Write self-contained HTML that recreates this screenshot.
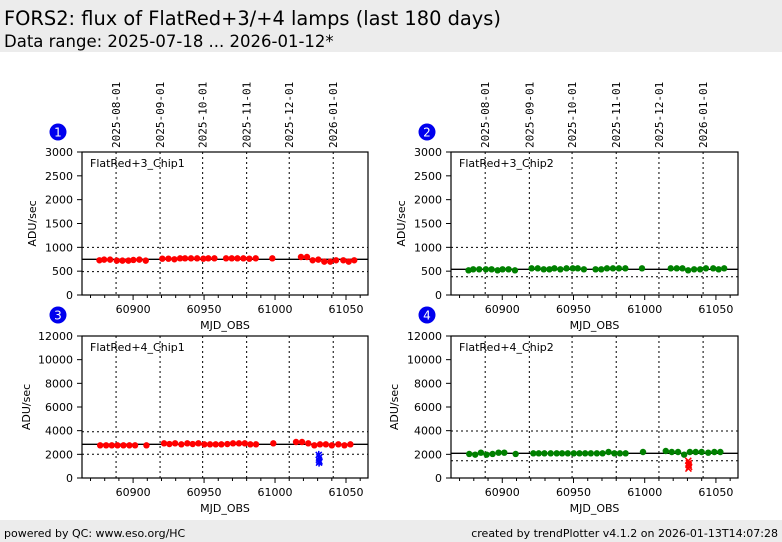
<!DOCTYPE html>
<html><head><meta charset="utf-8">
<style>
body{margin:0;width:782px;height:542px;background:#fff;font-family:"DejaVu Sans","Liberation Sans",sans-serif;overflow:hidden;position:relative}
#hdr{position:absolute;left:0;top:0;width:782px;height:52px;background:#ececec}
#ftr{position:absolute;left:0;top:520px;width:782px;height:22px;background:#ececec}
svg{position:absolute;left:0;top:0}
</style></head><body>
<div id="hdr"></div>
<div id="ftr"></div>
<svg id="chart" width="782" height="542">
<text x="4" y="25" font-size="19.4" fill="#000">FORS2: flux of FlatRed+3/+4 lamps (last 180 days)</text>
<text x="4" y="47" font-size="16.5" fill="#000">Data range: 2025-07-18 ... 2026-01-12*</text>
<text x="4" y="537" font-size="11" fill="#000">powered by QC: www.eso.org/HC</text>
<text x="778" y="537" font-size="11" fill="#000" text-anchor="end">created by trendPlotter v4.1.2 on 2026-01-13T14:07:28</text>
</svg>
<script>
// shared axis data
const dateTicks=[60888,60919,60949,60980,61010,61041];
const dateLabels=["2025-08-01","2025-09-01","2025-10-01","2025-11-01","2025-12-01","2026-01-01"];
const mjdTicks=[60900,60950,61000,61050];
const ticksTop=[0,500,1000,1500,2000,2500,3000];
const ticksBot=[0,2000,4000,6000,8000,10000,12000];
// chip1 / chip2 (FlatRed+3) dates
const datesA=[60876.3,60879.6,60883.8,60888.5,60892.5,60896.7,60900.2,60904.4,60908.9,
60920.6,60924.9,60929.1,60933.1,60936.6,60940.8,60945.1,60949.5,60953.0,60957.3,
60965.5,60969.5,60973.5,60977.7,60981.9,60986.4,60998.1,
61018.3,61022.5,61026.5,61030.5,61034.7,61038.9,61043.0,61048.1,61051.9,61055.8];
const valsP1=[728,742,742,721,721,721,735,742,721,
762,762,749,769,769,769,769,762,769,769,
769,769,769,769,762,769,769,
797,797,728,742,700,700,728,728,700,728];
const valsP2=[517,539,539,539,539,517,539,539,517,
559,559,539,539,559,539,559,559,559,539,
539,539,559,559,559,559,559,
559,559,559,517,539,539,559,559,539,559];
// FlatRed+4 dates
const datesB=[60876.8,60881,60885,60889,60893.2,60897.4,60901.4,60909.4,
60921.8,60925.6,60929.6,60934,60938.2,60942,60946,60950.2,60954.2,60958.2,60962.2,60966.4,60970.4,60974.6,60978.7,60982.6,60986.6,
60998.8,
61014.8,61019,61023.4,61027.7,61031.7,61035.8,61040,61044.6,61048.9,61053.1];
const valsP3=[2760,2760,2760,2760,2760,2760,2760,2760,
2930,2870,2930,2845,2930,2870,2930,2845,2845,2845,2845,2870,2930,2930,2930,2845,2845,
2930,
3042,3042,2930,2760,2845,2845,2760,2845,2760,2845];
const valsP4=[2030,1972,2140,1972,2030,2140,2140,2030,
2084,2084,2084,2084,2084,2084,2084,2084,2084,2084,2084,2084,2084,2197,2084,2084,2084,
2197,
2282,2197,2197,1972,2197,2197,2197,2140,2197,2197];
const outDates3=[61030.8,61031.2,61030.9,61031.3,61031];
const outVals3=[1950,1750,1550,1400,1300];
const outDates4=[61030.6,61031,61030.8,61031.2,61030.7];
const outVals4=[1450,1250,1100,950,800];
const refP1=[749,1000,490], refP2=[539,1000,384], refP3=[2848,3913,2003], refP4=[2087,3971,1462];

const NS="http://www.w3.org/2000/svg";
const svg=document.getElementById('chart');
function mk(t,a,parent){const e=document.createElementNS(NS,t);for(const k in a)e.setAttribute(k,a[k]);(parent||svg).appendChild(e);return e;}

function panel(o){
  const L=o.x0,R=o.x1,T=o.y0,B=o.y1;
  const xs=v=>L+(v-60864)*(R-L)/(61065.5-60864);
  const ys=v=>B-(v/o.ymax)*(B-T);
  const g=mk('g',{});
  
  
  const c=mk('circle',{cx:L-24,cy:o.badgeY,r:8.5,fill:'#0000ee'},g);
  
  
  const bt=mk('text',{x:L-24,y:o.badgeY+4.5,'font-size':12,fill:'#fff','text-anchor':'middle'},g);bt.textContent=o.n;
  
  
  dateTicks.forEach((d,i)=>{
    const x=xs(d);
    mk('line',{x1:x,x2:x,y1:T,y2:B,stroke:'#000','stroke-width':1,'stroke-dasharray':'2,3'},g);
    if(o.dates){
      const t=mk('text',{x:0,y:0,'font-size':11,'font-family':'"DejaVu Sans Mono","Liberation Mono",monospace',transform:`translate(${x+4},${T-4}) rotate(-90)`},g);
      t.textContent=dateLabels[i];
      
      
    }
  });
  mk('line',{x1:L,x2:R,y1:ys(o.ref[0]),y2:ys(o.ref[0]),stroke:'#000','stroke-width':1.3},g);
  for(let k=1;k<3;k++) mk('line',{x1:L,x2:R,y1:ys(o.ref[k]),y2:ys(o.ref[k]),stroke:'#000','stroke-width':1,'stroke-dasharray':'2,3'},g);
  o.yt.forEach(v=>{
    const y=ys(v);
    mk('line',{x1:L-5,x2:L,y1:y,y2:y,stroke:'#000'},g);
    const t=mk('text',{x:L-9,y:y+4,'font-size':11,'text-anchor':'end'},g);t.textContent=v;
    
    
  });
  for(let m=60870;m<=61060;m+=10){const x=xs(m);mk('line',{x1:x,x2:x,y1:B,y2:B+(m%50==0?5:3),stroke:'#000'},g);}
  mjdTicks.forEach(m=>{
    const t=mk('text',{x:xs(m),y:B+18,'font-size':11,'text-anchor':'middle'},g);t.textContent=m;
    
    
  });
  const xl=mk('text',{x:(L+R)/2,y:B+34,'font-size':11,'text-anchor':'middle'},g);xl.textContent='MJD_OBS';
  
  
  const yl=mk('text',{x:0,y:0,'font-size':11,'text-anchor':'middle',transform:`translate(${o.ylx},${(T+B)/2}) rotate(-90)`},g);yl.textContent='ADU/sec';
  
  
  o.d.forEach((d,i)=>{
    const p=mk('circle',{cx:xs(d),cy:ys(o.v[i]),r:3.2,fill:o.col},g);
    
    
  });
  if(o.od){o.od.forEach((d,i)=>{
    const x=xs(d),y=ys(o.ov[i]);
    const p=mk('path',{d:`M${x-3},${y-3}L${x+3},${y+3}M${x+3},${y-3}L${x-3},${y+3}`+(o.star?`M${x},${y-4}L${x},${y+4}`:''),stroke:o.ocol,'stroke-width':1.5},g);
    
    
  });}
  mk('rect',{x:L,y:T,width:R-L,height:B-T,fill:'none',stroke:'#000','stroke-width':1.2},g);
  const lb=mk('text',{x:L+8,y:T+15,'font-size':11},g);lb.textContent=o.label;
  
  
}
panel({n:1,x0:82,x1:368,y0:152,y1:295,ymax:3000,yt:ticksTop,d:datesA,v:valsP1,col:'#ff0000',ref:refP1,label:'FlatRed+3_Chip1',dates:true,badgeY:132,ylx:36});
panel({n:2,x0:451,x1:738,y0:152,y1:295,ymax:3000,yt:ticksTop,d:datesA,v:valsP2,col:'#008000',ref:refP2,label:'FlatRed+3_Chip2',dates:true,badgeY:132,ylx:405});
panel({n:3,x0:82,x1:368,y0:336,y1:478,ymax:12000,yt:ticksBot,d:datesB,v:valsP3,col:'#ff0000',ref:refP3,label:'FlatRed+4_Chip1',dates:false,badgeY:315,ylx:30,od:outDates3,ov:outVals3,ocol:'#0000ff',star:true});
panel({n:4,x0:451,x1:738,y0:336,y1:478,ymax:12000,yt:ticksBot,d:datesB,v:valsP4,col:'#008000',ref:refP4,label:'FlatRed+4_Chip2',dates:false,badgeY:315,ylx:398,od:outDates4,ov:outVals4,ocol:'#ff0000'});
</script>
</body></html>
